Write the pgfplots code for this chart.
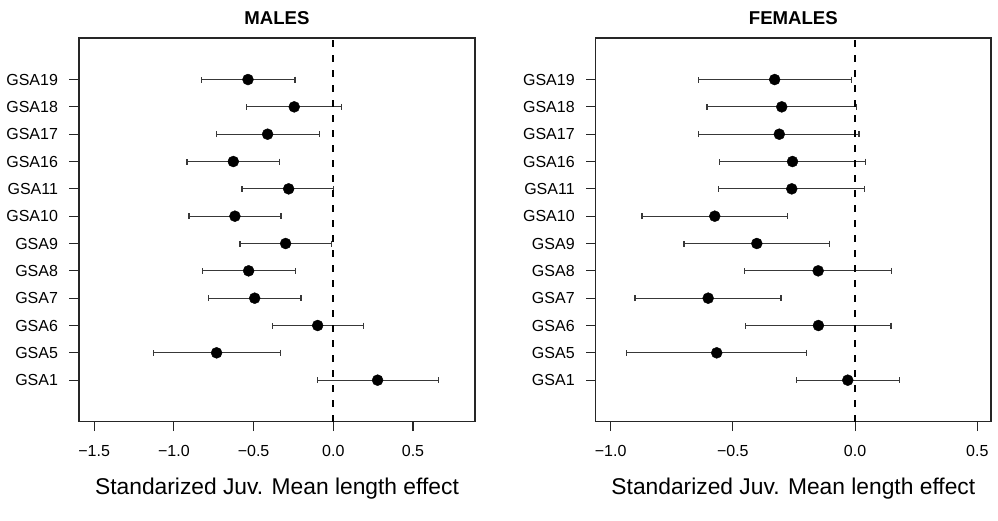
\documentclass[border=0pt]{standalone}
\usepackage{pgfplots}
\pgfplotsset{compat=1.18}
\usepackage{pgfplotstable}
\usepackage{fontspec}
\setmainfont{Liberation Sans}

\pgfplotstableread{
i m lo hi
1 0.278 -0.100 0.661
2 -0.732 -1.129 -0.330
3 -0.098 -0.383 0.188
4 -0.493 -0.782 -0.203
5 -0.531 -0.822 -0.236
6 -0.299 -0.585 -0.010
7 -0.617 -0.905 -0.328
8 -0.280 -0.573 0.000
9 -0.627 -0.918 -0.339
10 -0.412 -0.732 -0.088
11 -0.245 -0.543 0.052
12 -0.535 -0.828 -0.240
}\males

\pgfplotstableread{
i m lo hi
1 -0.030 -0.240 0.183
2 -0.566 -0.934 -0.198
3 -0.150 -0.447 0.147
4 -0.601 -0.900 -0.303
5 -0.151 -0.453 0.149
6 -0.402 -0.700 -0.105
7 -0.574 -0.872 -0.277
8 -0.259 -0.558 0.038
9 -0.256 -0.556 0.042
10 -0.310 -0.640 0.016
11 -0.300 -0.606 0.005
12 -0.329 -0.640 -0.016
}\females

\pgfplotsset{
  fp/.style={
    scale only axis,
    height=383.7pt,
    ymin=-0.52, ymax=13.52,
    ytick={1,...,12},
    yticklabels={GSA1,GSA5,GSA6,GSA7,GSA8,GSA9,GSA10,GSA11,GSA16,GSA17,GSA18,GSA19},
    tick align=outside,
    major tick length=9.5pt,
    xtick pos=lower, ytick pos=left,
    axis line style={black!85, line width=1.1pt},
    tick style={black!85, line width=1.1pt},
    ticklabel style={font=\fontsize{16}{16}\selectfont},
    yticklabel style={xshift=-8pt},
    xticklabel style={yshift=-11pt},
    title style={font=\fontsize{18.6}{18.6}\selectfont\bfseries, at={(axis description cs:0.5,1)}, anchor=center, yshift=13.7pt},
    xlabel={Standarized Juv. Mean length effect},
    xlabel style={font=\fontsize{22.8}{22.8}\selectfont, at={(axis description cs:0.5,0)}, anchor=base, yshift=-72.8pt},
  },
  ebar/.style={only marks, mark=none,
    error bars/.cd, x dir=both, x explicit,
    error mark=|,
    error bar style={line width=1.2pt, black!78},
    error mark options={mark size=3pt, line width=1.2pt, black!78}},
  pts/.style={only marks, mark=*, mark size=5.5pt, black},
  zline/.style={black, line width=2pt, dash pattern=on 7pt off 8pt},
}

\begin{document}
\begin{tikzpicture}
\path[use as bounding box] (0,0) rectangle (998pt,520pt);
\begin{axis}[fp, at={(79pt,98.3pt)}, anchor=south west, width=396pt,
  xmin=-1.595, xmax=0.889,
  xtick={-1.5,-1,-0.5,0,0.5},
  xticklabels={−1.5,−1.0,−0.5,0.0,0.5},
  title={MALES}]
\addplot[ebar] table[x=m, y=i, x error plus expr=\thisrow{hi}-\thisrow{m}, x error minus expr=\thisrow{m}-\thisrow{lo}] {\males};
\addplot[zline] coordinates {(0,-0.52) (0,13.52)};
\addplot[pts] table[x=m, y=i] {\males};
\end{axis}
\begin{axis}[fp, at={(595.7pt,98.3pt)}, anchor=south west, width=395.3pt,
  xmin=-1.061, xmax=0.556,
  xtick={-1,-0.5,0,0.5},
  xticklabels={−1.0,−0.5,0.0,0.5},
  title={FEMALES}]
\addplot[ebar] table[x=m, y=i, x error plus expr=\thisrow{hi}-\thisrow{m}, x error minus expr=\thisrow{m}-\thisrow{lo}] {\females};
\addplot[zline] coordinates {(0,-0.52) (0,13.52)};
\addplot[pts] table[x=m, y=i] {\females};
\end{axis}
\end{tikzpicture}
\end{document}
